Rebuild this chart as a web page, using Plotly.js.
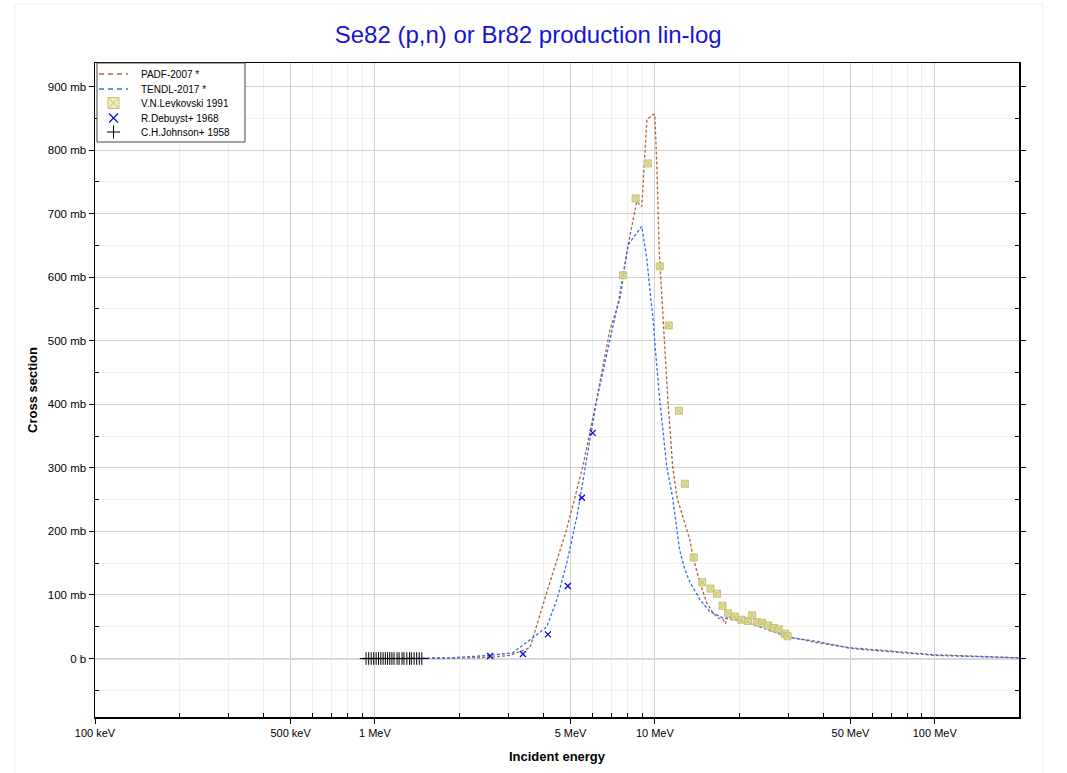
<!DOCTYPE html>
<html>
<head>
<meta charset="utf-8">
<script src="https://cdn.plot.ly/plotly-3.0.1.min.js"></script>
<style>html,body{margin:0;padding:0;background:#fff;}#chart{width:1067px;height:773px;}</style>
</head>
<body>
<div id="chart"></div>
<script>
// Energies in MeV, cross sections in mb
const padfE  = [0.9, 1.85, 2.58, 3.04, 3.58, 4.11, 4.84, 5.53, 6.19, 6.91, 7.50, 8.03, 8.62, 8.98, 9.37, 9.84, 10.0, 10.17, 10.37, 10.59, 11.13, 11.58, 12.0, 13.34, 13.68, 14.48, 15.31, 16.13, 16.8, 17.5, 17.9, 18.1, 21.3, 25.1, 29.6, 37.9, 50, 100, 200];
const padfXS = [0, 0.5, 2, 5, 17, 104, 203, 302, 407, 517, 565, 651, 719, 711, 848, 856, 856, 774, 640, 565, 407, 302, 253, 187, 160, 120, 88, 72, 64, 62, 55, 66, 58, 49, 35, 25, 17, 6, 1.2];

const tendlE  = [0.9, 1.85, 2.58, 3.1, 3.73, 4.11, 4.47, 4.85, 5.27, 5.72, 6.2, 7.44, 8.03, 8.98, 9.37, 9.68, 9.84, 10.0, 10.41, 11.03, 11.58, 12.26, 12.8, 13.34, 14.48, 15.71, 17.5, 21.3, 25.1, 30.3, 37.9, 50, 100, 200];
const tendlXS = [0, 1, 5, 9, 35, 50, 93, 151, 224, 313, 407, 565, 651, 680, 628, 565, 538, 497, 407, 302, 253, 171, 140, 120, 93, 74, 64, 57, 46, 33, 27, 16, 5, 1];

const levE  = [7.69, 8.54, 9.45, 10.41, 11.22, 12.19, 12.8, 13.78, 14.76, 15.81, 16.69, 17.45, 18.27, 19.31, 20.40, 21.54, 22.26, 23.20, 24.16, 25.39, 26.6, 27.73, 29.2, 29.8];
const levXS = [603, 724, 779, 617, 524, 390, 275, 159, 120, 110, 102, 83, 71, 66, 61, 59, 68, 57, 56, 52, 48, 46, 39, 35];

const debE  = [2.58, 3.38, 4.15, 4.89, 5.49, 6.0];
const debXS = [4, 7, 38, 114, 253, 355];

const johE  = [0.93, 0.95, 0.97, 0.99, 1.01, 1.03, 1.05, 1.07, 1.09, 1.11, 1.13, 1.15, 1.17, 1.20, 1.22, 1.25, 1.27, 1.30, 1.33, 1.35, 1.38, 1.41, 1.44, 1.47];
const johXS = [0, 0, 0, 0, 0, 0, 0, 0, 0, 0, 0, 0, 0, 0, 0, 0, 0, 0, 0, 0, 0, 0, 0, 0];

const seriesNames = ['PADF-2007 *', 'TENDL-2017 *', 'V.N.Levkovski 1991', 'R.Debuyst+ 1968', 'C.H.Johnson+ 1958'];

const xTickVals = [0.1, 0.5, 1, 5, 10, 50, 100];
const xTickText = ['100 keV', '500 keV', '1 MeV', '5 MeV', '10 MeV', '50 MeV', '100 MeV'];
const xMinorVals = [0.2, 0.3, 0.4, 0.6, 0.7, 0.8, 0.9, 2, 3, 4, 6, 7, 8, 9, 20, 30, 40, 60, 70, 80, 90, 200];
const yTickVals = [0, 100, 200, 300, 400, 500, 600, 700, 800, 900];
const yTickText = ['0 b', '100 mb', '200 mb', '300 mb', '400 mb', '500 mb', '600 mb', '700 mb', '800 mb', '900 mb'];
const yMinorVals = [-50, 50, 150, 250, 350, 450, 550, 650, 750, 850];

const FONT = 'Liberation Sans, Arial, Helvetica, sans-serif';
const BROWN = '#a86a3a', BLUE = '#3a6ee8', KHAKI = '#c9c172', KHAKI_FILL = 'rgba(222,216,150,0.85)', XBLUE = '#0a0acc';

// plot area geometry in pixels (for the hand-drawn legend box)
const M = {l: 95, r: 48, t: 63, b: 56}, W = 1067, H = 773;
const PW = W - M.l - M.r, PH = H - M.t - M.b;
const px = v => (v - M.l) / PW;
const py = v => (H - M.b - v) / PH;

const traces = [
  {x: padfE, y: padfXS, name: seriesNames[0], mode: 'lines', showlegend: false,
   line: {color: BROWN, width: 1.3, dash: '3px,2px'}},
  {x: tendlE, y: tendlXS, name: seriesNames[1], mode: 'lines', showlegend: false,
   line: {color: BLUE, width: 1.3, dash: '3px,2px'}},
  {x: levE, y: levXS, name: seriesNames[2], mode: 'markers', showlegend: false,
   marker: {symbol: 'square-x', size: 7, color: KHAKI_FILL, line: {color: KHAKI, width: 1}}},
  {x: debE, y: debXS, name: seriesNames[3], mode: 'markers', showlegend: false,
   marker: {symbol: 'x-thin', size: 6, line: {color: XBLUE, width: 1.3}}},
  {x: johE, y: johXS, name: seriesNames[4], mode: 'markers', showlegend: false,
   marker: {symbol: 'cross-thin', size: 9, line: {color: '#000000', width: 1}}}
];

// legend (drawn by hand for the compact spacing of the original)
const rowY = [74, 89, 103, 118, 132];
const legShapes = [
  {type: 'rect', xref: 'paper', yref: 'paper', x0: px(97), x1: px(245), y0: py(142), y1: py(63),
   line: {color: '#444', width: 1}, fillcolor: '#ffffff', layer: 'above'},
  {type: 'line', xref: 'paper', yref: 'paper', x0: px(99), x1: px(128), y0: py(rowY[0]), y1: py(rowY[0]),
   line: {color: BROWN, width: 1.6, dash: '5px,4px'}, layer: 'above'},
  {type: 'line', xref: 'paper', yref: 'paper', x0: px(99), x1: px(128), y0: py(rowY[1]), y1: py(rowY[1]),
   line: {color: BLUE, width: 1.6, dash: '5px,4px'}, layer: 'above'},
  {type: 'rect', xref: 'paper', yref: 'paper', x0: px(108), x1: px(119), y0: py(rowY[2] + 5.5), y1: py(rowY[2] - 5.5),
   line: {color: KHAKI, width: 1}, fillcolor: 'rgba(240,236,200,1)', layer: 'above'},
  {type: 'line', xref: 'paper', yref: 'paper', x0: px(108), x1: px(119), y0: py(rowY[2] + 5.5), y1: py(rowY[2] - 5.5),
   line: {color: KHAKI, width: 1}, layer: 'above'},
  {type: 'line', xref: 'paper', yref: 'paper', x0: px(108), x1: px(119), y0: py(rowY[2] - 5.5), y1: py(rowY[2] + 5.5),
   line: {color: KHAKI, width: 1}, layer: 'above'},
  {type: 'line', xref: 'paper', yref: 'paper', x0: px(109), x1: px(118), y0: py(rowY[3] + 4.5), y1: py(rowY[3] - 4.5),
   line: {color: XBLUE, width: 1.2}, layer: 'above'},
  {type: 'line', xref: 'paper', yref: 'paper', x0: px(109), x1: px(118), y0: py(rowY[3] - 4.5), y1: py(rowY[3] + 4.5),
   line: {color: XBLUE, width: 1.2}, layer: 'above'},
  {type: 'line', xref: 'paper', yref: 'paper', x0: px(107), x1: px(120), y0: py(rowY[4]), y1: py(rowY[4]),
   line: {color: '#000', width: 1}, layer: 'above'},
  {type: 'line', xref: 'paper', yref: 'paper', x0: px(113.5), x1: px(113.5), y0: py(rowY[4] + 6.5), y1: py(rowY[4] - 6.5),
   line: {color: '#000', width: 1}, layer: 'above'}
];
const legAnn = seriesNames.map((n, i) => ({
  text: n, xref: 'paper', yref: 'paper', x: px(139), y: py(rowY[i]), xanchor: 'left', yanchor: 'middle',
  showarrow: false, font: {family: FONT, size: 10, color: '#000'}
}));

const layout = {
  width: W, height: H,
  paper_bgcolor: '#ffffff', plot_bgcolor: '#ffffff',
  margin: M,
  font: {family: FONT, size: 11, color: '#000'},
  title: {text: 'Se82 (p,n) or Br82 production lin-log', font: {family: FONT, size: 24, color: '#1515d6'},
          x: 0.495, xref: 'container', xanchor: 'center', y: 1 - 35 / H, yref: 'container', yanchor: 'middle'},
  showlegend: false,
  xaxis: {
    type: 'log', range: [-1, Math.log10(200)], autorange: false,
    tickmode: 'array', tickvals: xTickVals, ticktext: xTickText,
    ticks: 'outside', ticklen: 5, tickcolor: '#000', tickfont: {family: FONT, size: 11},
    showgrid: true, gridcolor: '#d0d0d0', gridwidth: 1,
    minor: {tickmode: 'array', tickvals: xMinorVals, ticks: 'inside', ticklen: 4, tickcolor: '#000',
            showgrid: true, gridcolor: '#efefef', gridwidth: 1},
    showline: true, linecolor: '#000', linewidth: 1.5, mirror: true, zeroline: false,
    title: {text: '<b>Incident energy</b>', font: {family: FONT, size: 13}, standoff: 14},
    automargin: false
  },
  yaxis: {
    range: [-92, 937], autorange: false,
    tickmode: 'array', tickvals: yTickVals, ticktext: yTickText,
    ticks: 'outside', ticklen: 5, tickcolor: '#000', tickfont: {family: FONT, size: 11.5},
    showgrid: true, gridcolor: '#d0d0d0', gridwidth: 1,
    minor: {tickmode: 'array', tickvals: yMinorVals, ticks: 'inside', ticklen: 4, tickcolor: '#000',
            showgrid: true, gridcolor: '#efefef', gridwidth: 1},
    zeroline: true, zerolinecolor: '#d8d8d8', zerolinewidth: 2,
    showline: true, linecolor: '#000', linewidth: 1.5, mirror: 'ticks',
    title: {text: '<b>Cross section</b>', font: {family: FONT, size: 13}, standoff: 7},
    automargin: false
  },
  shapes: [
    {type: 'rect', xref: 'paper', yref: 'paper', x0: px(15), x1: px(1043), y0: py(790), y1: py(4),
     line: {color: '#eeeeee', width: 1}, fillcolor: 'rgba(0,0,0,0)', layer: 'below'}
  ].concat(legShapes),
  annotations: legAnn
};

Plotly.newPlot('chart', traces, layout, {displayModeBar: false, staticPlot: true});
</script>
</body>
</html>
